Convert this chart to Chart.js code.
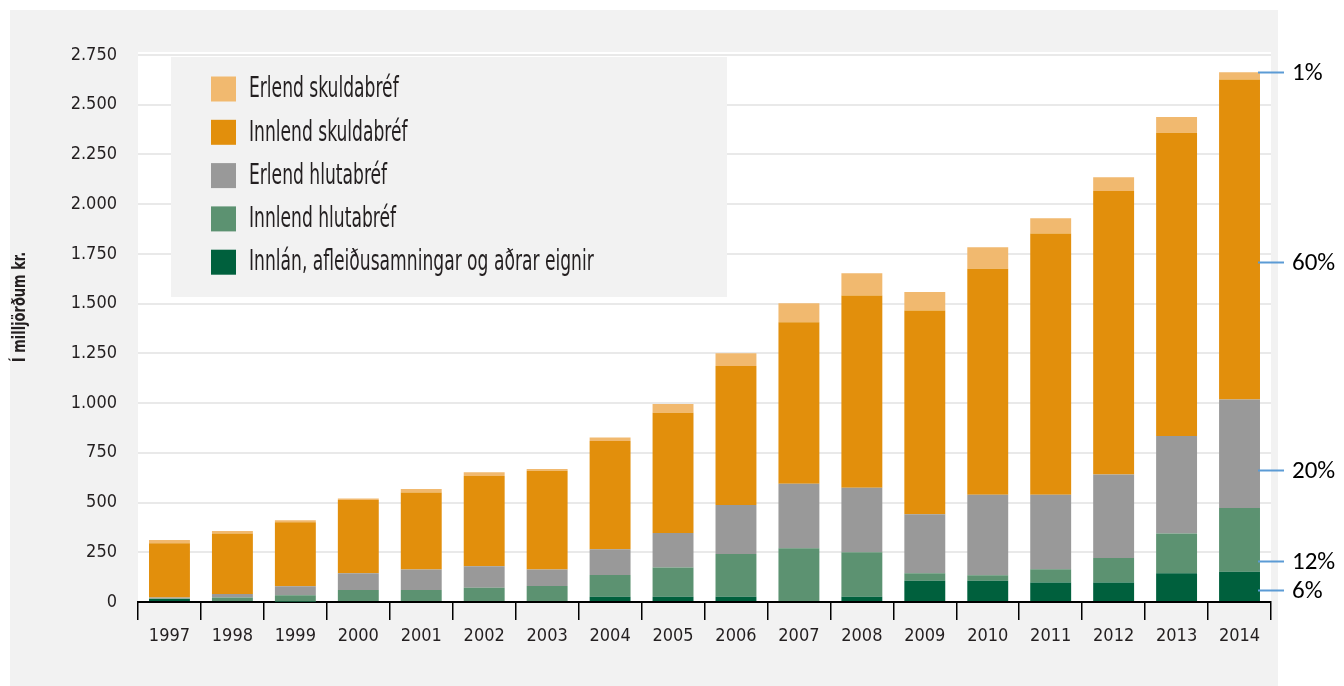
<!DOCTYPE html>
<html lang="is">
<head>
<meta charset="utf-8">
<title>Eignir lífeyrissjóða</title>
<script src="https://cdn.jsdelivr.net/npm/chart.js@4.4.0/dist/chart.umd.min.js"></script>
<style>
  html, body { margin: 0; padding: 0; background: #fff; }
  #wrap { width: 1344px; height: 686px; }
</style>
</head>
<body>
<div id="wrap"><canvas id="chart" width="1344" height="686"></canvas></div>
<script>
const years = ["1997", "1998", "1999", "2000", "2001", "2002", "2003", "2004", "2005",
  "2006", "2007", "2008", "2009", "2010", "2011", "2012", "2013", "2014"];

// stacked from the bottom up, í milljörðum kr.
const innlanOgAdrar = [15, 5, 3, 5, 5, 5, 5, 27, 27, 27, 0, 27, 107, 107, 98, 98, 145, 152];
const innlendHluta = [3, 17, 31, 55, 55, 67, 75, 109, 147, 214, 270, 223, 37, 27, 67, 123, 199, 321];
const erlendHluta = [4, 18, 45, 84, 104, 108, 84, 129, 173, 247, 324, 325, 297, 405, 374, 420, 490, 545];
const innlendSkuld = [273, 304, 322, 369, 386, 454, 496, 545, 605, 699, 813, 966, 1024, 1137, 1314, 1425, 1525, 1609];
const erlendSkuld = [17, 13, 10, 7, 18, 18, 9, 17, 44, 64, 95, 112, 93, 107, 76, 69, 79, 36];

const seriesLabels = [
  "Innlán, afleiðusamningar og aðrar eignir",
  "Innlend hlutabréf",
  "Erlend hlutabréf",
  "Innlend skuldabréf",
  "Erlend skuldabréf",
];
const seriesColors = ["#00603d", "#5c9271", "#999999", "#e28f0c", "#f1b96f"];

// shares of 2014 marked on the right
const shareLabels = ["1%", "60%", "20%", "12%", "6%"];
const shareLineValues = [2665, 1709, 664, 206, 60];

const yTitle = "Í milljörðum kr.";
const yTicksMax = 2750;
const yTicksStep = 250;

const NARROW = "'Liberation Sans Narrow', 'DejaVu Sans Condensed', sans-serif";
const TEXT = "#231f20";

const backgroundPlugin = {
  id: "background",
  beforeDraw(chart) {
    const { ctx, chartArea } = chart;
    ctx.save();
    ctx.fillStyle = "#ffffff";
    ctx.fillRect(0, 0, chart.width, chart.height);
    ctx.fillStyle = "#f2f2f2";
    ctx.fillRect(10, 10, 1268, chart.height - 10);
    ctx.fillStyle = "#ffffff";
    ctx.fillRect(chartArea.left, chartArea.top - 3, chartArea.right - chartArea.left, chartArea.bottom - chartArea.top + 3);

    // y axis title, a bit above the middle like the original
    ctx.translate(21, 307);
    ctx.rotate(-Math.PI / 2);
    ctx.scale(0.85, 1);
    ctx.fillStyle = TEXT;
    ctx.font = "bold 17px " + NARROW;
    ctx.textAlign = "center";
    ctx.textBaseline = "middle";
    ctx.fillText(yTitle, 0, 0);
    ctx.restore();
  },
};

const legendBoxPlugin = {
  id: "legendBox",
  beforeDatasetsDraw(chart) {
    const { ctx } = chart;
    ctx.save();
    ctx.fillStyle = "#f2f2f2";
    ctx.fillRect(171, 57, 556, 240);
    const order = chart.data.datasets.slice().reverse();
    order.forEach((ds, i) => {
      const cy = 89 + i * 43.3;
      ctx.fillStyle = ds.backgroundColor;
      ctx.fillRect(211, cy - 12.5, 25, 25);
      ctx.save();
      ctx.translate(249, cy);
      ctx.scale(0.68, 1);
      ctx.fillStyle = TEXT;
      ctx.font = "28px " + NARROW;
      ctx.textBaseline = "middle";
      ctx.textAlign = "left";
      ctx.fillText(ds.label, 0, 1);
      ctx.restore();
    });
    ctx.restore();
  },
};

const sharePlugin = {
  id: "shares",
  afterDraw(chart) {
    const { ctx } = chart;
    const yScale = chart.scales.y;
    const meta = chart.getDatasetMeta(0);
    const last = meta.data[meta.data.length - 1];
    const x0 = last.x + last.width / 2;
    ctx.save();
    ctx.strokeStyle = "#5b9bd5";
    ctx.lineWidth = 2;
    ctx.fillStyle = "#000000";
    ctx.font = "25px Carlito, Lato, sans-serif";
    ctx.textBaseline = "middle";
    ctx.textAlign = "left";
    shareLineValues.forEach((v, i) => {
      const y = Math.round(yScale.getPixelForValue(v)) + 0.5;
      ctx.beginPath();
      ctx.moveTo(x0 - 2, y);
      ctx.lineTo(x0 + 24, y);
      ctx.stroke();
      ctx.fillText(shareLabels[i], x0 + 32, y + 1);
    });
    ctx.restore();
  },
};

const seriesData = [innlanOgAdrar, innlendHluta, erlendHluta, innlendSkuld, erlendSkuld];

const chart = new Chart(document.getElementById("chart"), {
  type: "bar",
  data: {
    labels: years,
    datasets: seriesData.map((d, i) => ({
      label: seriesLabels[i],
      data: d,
      backgroundColor: seriesColors[i],
      borderWidth: 0,
      categoryPercentage: 0.65,
      barPercentage: 1,
    })),
  },
  options: {
    responsive: false,
    animation: false,
    devicePixelRatio: 1,
    layout: { padding: { top: 55, right: 73, bottom: 0, left: 10 } },
    plugins: { legend: { display: false }, tooltip: { enabled: false } },
    scales: {
      x: {
        stacked: true,
        afterFit: (s) => { s.height = 84; },
        grid: { drawOnChartArea: false, drawTicks: true, tickLength: 18, color: "#000000", lineWidth: 1.5 },
        border: { display: true, color: "#000000", width: 2 },
        ticks: { color: TEXT, padding: 6, font: { family: NARROW, size: 18 } },
      },
      y: {
        stacked: true,
        min: 0,
        max: yTicksMax,
        afterFit: (s) => { s.width = 128; },
        grid: { color: "#e9e9e9", lineWidth: 2, drawTicks: false },
        border: { display: false },
        ticks: {
          stepSize: yTicksStep,
          padding: 21,
          color: TEXT,
          font: { family: NARROW, size: 18 },
          callback: (v) => String(v).replace(/\B(?=(\d{3})+(?!\d))/g, "."),
        },
      },
    },
  },
  plugins: [backgroundPlugin, legendBoxPlugin, sharePlugin],
});
</script>
</body>
</html>
